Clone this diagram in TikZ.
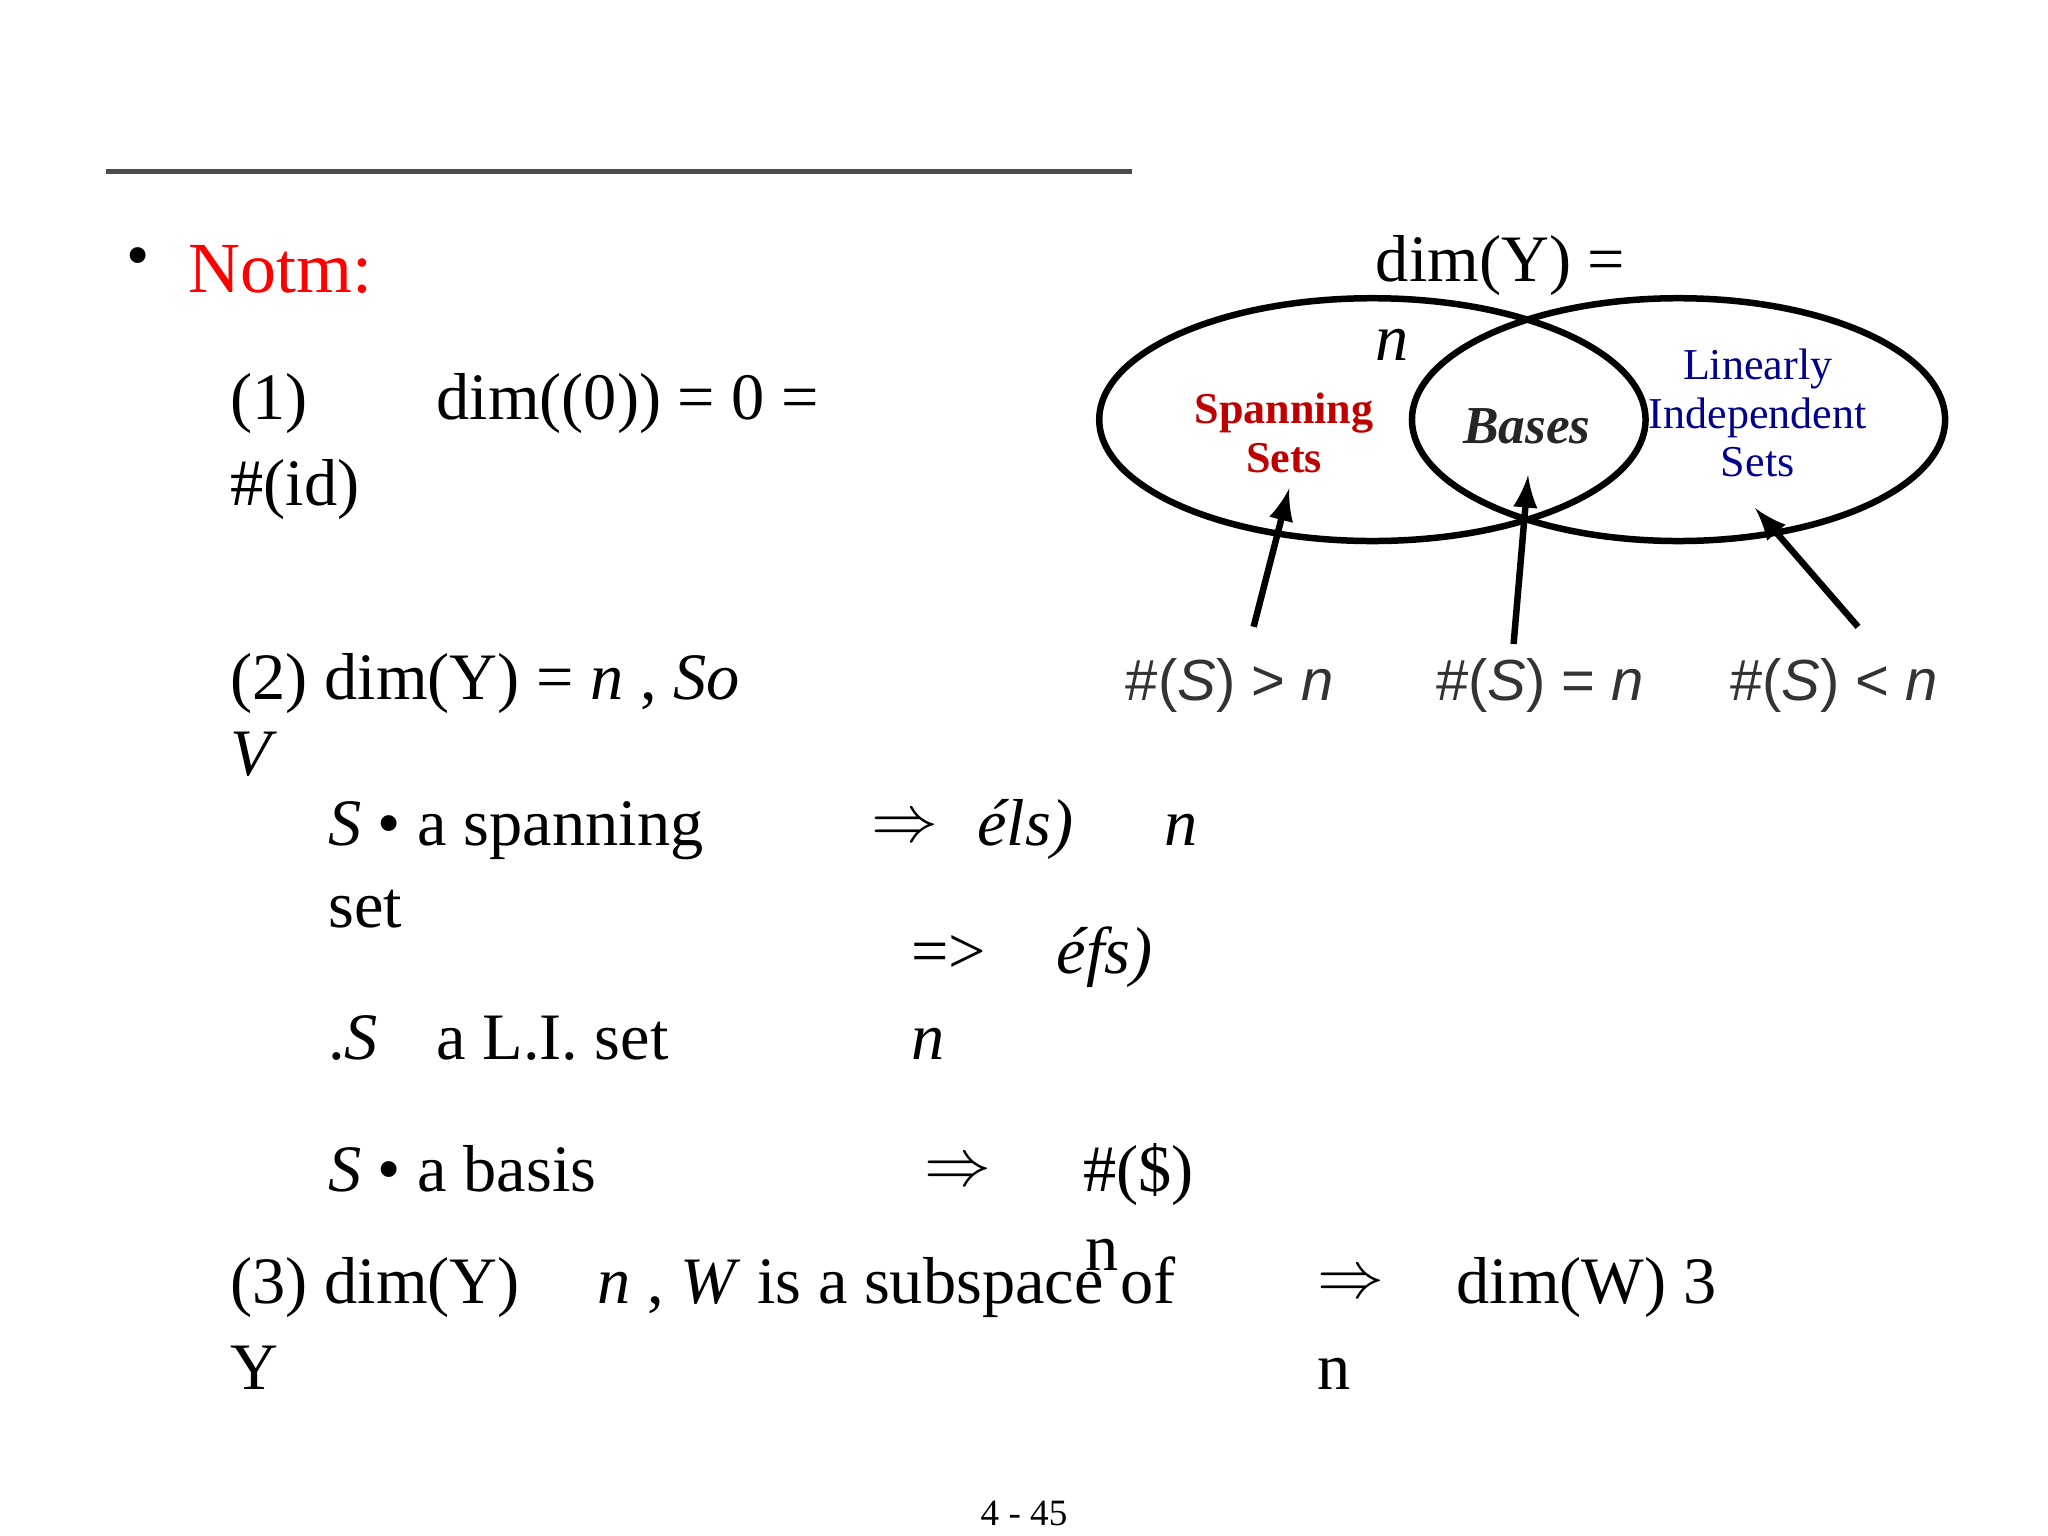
\documentclass[tikz,border=0pt]{standalone}
\usepackage{fontspec}
\setmainfont{Liberation Serif}
\setsansfont{Liberation Sans}
\begin{document}
\begin{tikzpicture}[x=0.01cm,y=-0.01cm,
  t/.style={anchor=base west,inner sep=0pt,font=\fontsize{14.3}{15}\selectfont},
  lab/.style={anchor=base,inner sep=0pt,font=\sffamily\fontsize{12.5}{14}\selectfont,text=black!80},
  arr/.style={-latex,line width=1.4pt}]
\useasboundingbox (0,0) rectangle (1552,1164);
\draw[black!70,line width=1pt] (80,130) -- (858,130);
\node[t] (bul) at (95,210) {•};
\node[t,text=red,font=\fontsize{15.5}{17}\selectfont] (notm) at (142,222) {Notm:};
% (1)
\node[t] (a1) at (174,318) {(1)};
\node[t] (a2) at (330,318) {dim((0)) = 0 =};
\node[t] (a3) at (174,383) {\#(id)};
% (2)
\node[t] (b1) at (174,530) {(2) dim(Y) = \textit{n} , \textit{So}};
\node[t] (b2) at (174,588) {\textit{V}};
\node[t] (c1) at (248,641) {\textit{S} • a spanning};
\node[t] (c2) at (248,703) {set};
\node[t] (c3) at (660,638) {$\Rightarrow$};
\node[t] (c4) at (740,641) {\textit{éls)}};
\node[t] (c5) at (882,641) {\textit{n}};
\node[t] (d1) at (690,738) {=>};
\node[t] (d2) at (800,738) {\textit{éfs)}};
\node[t] (d3) at (248,803) {.\textit{S}};
\node[t] (d4) at (330,803) {a L.I. set};
\node[t] (d5) at (690,803) {\textit{n}};
\node[t] (e1) at (248,903) {\textit{S} • a basis};
\node[t] (e2) at (700,898) {$\Rightarrow$};
\node[t] (e3) at (820,903) {\#(\$)};
\node[t] (e4) at (822,963) {n};
% (3)
\node[t] (f1) at (174,988) {(3) dim(Y)};
\node[t] (f2) at (452,988) {\textit{n} , \textit{W} is a subspace of};
\node[t] (f3) at (998,983) {$\Rightarrow$};
\node[t] (f4) at (1103,988) {dim(W) 3};
\node[t] (f5) at (174,1053) {Y};
\node[t] (f6) at (998,1053) {n};
\node[anchor=base,inner sep=0pt,font=\fontsize{8}{9}\selectfont] (pg) at (776,1156) {4 - 45};
% Venn
\node[t] (dy) at (1042,213) {dim(Y) =};
\node[t] (dn) at (1042,273) {\textit{n}};
\draw[line width=1.4pt] (1040,318) ellipse [x radius=207,y radius=92];
\draw[line width=1.4pt] (1272,318) ellipse [x radius=202,y radius=92];
\node[align=center,text=red!75!black,font=\bfseries\fontsize{9.5}{10.5}\selectfont] (sp) at (973,328) {Spanning\\Sets};
\node[font=\bfseries\itshape\fontsize{11.5}{13}\selectfont,text=black!85] (ba) at (1157,323) {Bases};
\node[align=center,text=blue!55!black,font=\fontsize{9.5}{10.5}\selectfont] (li) at (1332,313) {Linearly\\Independent\\Sets};
\node[lab] (l1) at (932,531) {\#(\textit{S}) > \textit{n}};
\node[lab] (l2) at (1167,531) {\#(\textit{S}) = \textit{n}};
\node[lab] (l3) at (1390,531) {\#(\textit{S}) < \textit{n}};
\coordinate (s1) at (950,475); \coordinate (t1) at (977,370);
\coordinate (s2) at (1147,488); \coordinate (t2) at (1158,360);
\coordinate (s3) at (1408,475); \coordinate (t3) at (1330,385);
\draw[arr] (s1) -- (t1);
\draw[arr] (s2) -- (t2);
\draw[arr] (s3) -- (t3);
\end{tikzpicture}
\end{document}
